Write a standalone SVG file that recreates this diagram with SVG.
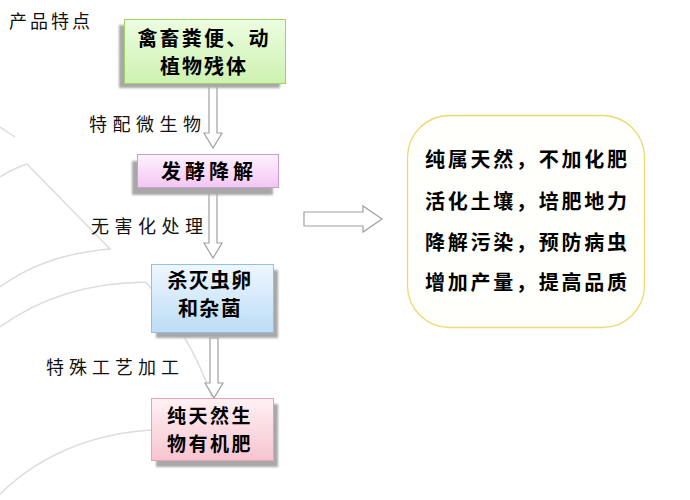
<svg xmlns="http://www.w3.org/2000/svg" width="690" height="500" viewBox="0 0 690 500">
<style>
.bg{fill:none;stroke:#dcdcdc;stroke-width:1.5}
.shadow{fill:#a8a8a8;filter:url(#blur)}
.bt{font-family:"Noto Sans CJK SC","Noto Sans CJK JP",sans-serif;font-weight:bold;font-size:20px;fill:#000;text-anchor:middle;letter-spacing:2px}
.lbl{font-family:"Noto Sans CJK SC","Noto Sans CJK JP",sans-serif;font-size:18px;fill:#111;letter-spacing:5.5px}
.arr{fill:#fff;stroke:#a0a0a0;stroke-width:1.2}
.ct{font-family:"Noto Sans CJK SC","Noto Sans CJK JP",sans-serif;font-weight:bold;font-size:20px;fill:#000;letter-spacing:2.75px}
</style>
<defs>
<filter id="blur" x="-10%" y="-10%" width="120%" height="130%"><feGaussianBlur stdDeviation="1"/></filter>
<linearGradient id="gGreen" x1="0" y1="0" x2="0" y2="1"><stop offset="0" stop-color="#ecfde0"/><stop offset="1" stop-color="#cdf2b0"/></linearGradient>
<linearGradient id="gPurple" x1="0" y1="0" x2="0" y2="1"><stop offset="0" stop-color="#fff2ff"/><stop offset="1" stop-color="#f2c6f2"/></linearGradient>
<linearGradient id="gBlue" x1="0" y1="0" x2="0" y2="1"><stop offset="0" stop-color="#eef7ff"/><stop offset="1" stop-color="#bcdcf5"/></linearGradient>
<linearGradient id="gPink" x1="0" y1="0" x2="0" y2="1"><stop offset="0" stop-color="#fff1f4"/><stop offset="1" stop-color="#f6c4d0"/></linearGradient>
</defs>
<rect width="690" height="500" fill="#fff"/>
<g id="background">
<path class="bg" d="M0,127 L15,137"/>
<path class="bg" d="M0,177 Q12,169 27,164 L110,249 Q45,254 0,287"/>
<path class="bg" d="M146,282 Q60,283 0,327"/>
<path class="bg" d="M146,282 Q190,335 212,397"/>
<path class="bg" d="M151,430 Q60,436 0,494"/>
</g>
<text class="lbl" x="9" y="28" style="letter-spacing:3px">产品特点</text>
<g id="connectors">
<path class="arr" d="M209,85 H217 V133 H222 L213,148 L204,133 H209 Z"/>
<path class="arr" d="M209,193 H217 V243 H222 L213,258 L204,243 H209 Z"/>
<path class="arr" d="M210,338 H218 V383 H223 L214,398 L205,383 H210 Z"/>
<path class="arr" d="M304,212 H363 V206 L382,219 L363,232 V226 H304 Z"/>
<text class="lbl" x="89" y="131">特配微生物</text>
<text class="lbl" x="91" y="233">无害化处理</text>
<text class="lbl" x="46" y="374" style="letter-spacing:5px">特殊工艺加工</text>
</g>
<g id="node1">
<rect class="shadow" x="119" y="25" width="161" height="63"/>
<rect x="124.5" y="19.5" width="161" height="64" fill="url(#gGreen)" stroke="#9fd06c" stroke-width="1"/>
<text class="bt" x="204" y="46" style="letter-spacing:2.2px">禽畜粪便、动</text>
<text class="bt" x="204" y="74">植物残体</text>
</g>
<g id="node2">
<rect class="shadow" x="132" y="161" width="141" height="34"/>
<rect x="137.5" y="154.5" width="141" height="33" fill="url(#gPurple)" stroke="#cc9ad4" stroke-width="1"/>
<text class="bt" x="209" y="179" style="letter-spacing:4px">发酵降解</text>
</g>
<g id="node3">
<rect class="shadow" x="156" y="270" width="122" height="68"/>
<rect x="151.5" y="264.5" width="122" height="68" fill="url(#gBlue)" stroke="#90c0e6" stroke-width="1"/>
<text class="bt" x="210" y="288" style="letter-spacing:1.3px">杀灭虫卵</text>
<text class="bt" x="210" y="316" style="letter-spacing:1.3px">和杂菌</text>
</g>
<g id="node4">
<rect class="shadow" x="156" y="404" width="122" height="63"/>
<rect x="151.5" y="398.5" width="122" height="62" fill="url(#gPink)" stroke="#e4a2b4" stroke-width="1"/>
<text class="bt" x="210" y="423" style="font-size:19px;letter-spacing:2.5px">纯天然生</text>
<text class="bt" x="210" y="451" style="font-size:19px;letter-spacing:2.5px">物有机肥</text>
</g>
<g id="callout">
<rect x="407.5" y="115.5" width="237" height="212" rx="42" ry="42" fill="#fffffb" stroke="#f0d870" stroke-width="1.3"/>
<text class="ct" x="425" y="167">纯属天然，不加化肥</text>
<text class="ct" x="425" y="209">活化土壤，培肥地力</text>
<text class="ct" x="425" y="250">降解污染，预防病虫</text>
<text class="ct" x="425" y="290">增加产量，提高品质</text>
</g>
</svg>
